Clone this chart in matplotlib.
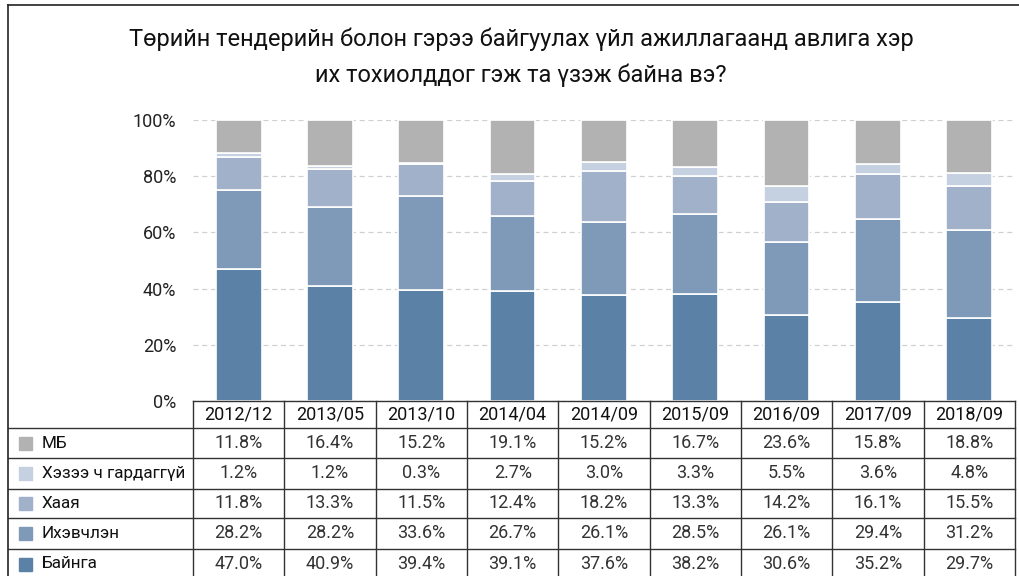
import matplotlib
matplotlib.use("Agg")
import matplotlib.pyplot as plt
from matplotlib import font_manager
import numpy as np

names = {f.name for f in font_manager.fontManager.ttflist}
FONT = 'Liberation Sans Narrow' if 'Liberation Sans Narrow' in names else 'Roboto'
plt.rcParams['font.family'] = [FONT, 'DejaVu Sans']

categories = ["2012/12", "2013/05", "2013/10", "2014/04", "2014/09",
              "2015/09", "2016/09", "2017/09", "2018/09"]
# bottom to top
series_names = ["Байнга", "Ихэвчлэн", "Хаая", "Хэзээ ч гардаггүй", "МБ"]
bainga   = [47.0, 40.9, 39.4, 39.1, 37.6, 38.2, 30.6, 35.2, 29.7]
ihevchlen = [28.2, 28.2, 33.6, 26.7, 26.1, 28.5, 26.1, 29.4, 31.2]
haaya    = [11.8, 13.3, 11.5, 12.4, 18.2, 13.3, 14.2, 16.1, 15.5]
hezee    = [1.2, 1.2, 0.3, 2.7, 3.0, 3.3, 5.5, 3.6, 4.8]
mb       = [11.8, 16.4, 15.2, 19.1, 15.2, 16.7, 23.6, 15.8, 18.8]
yticks = [0, 20, 40, 60, 80, 100]
title = "Төрийн тендерийн болон гэрээ байгуулах үйл ажиллагаанд авлига хэр\nих тохиолддог гэж та үзэж байна вэ?"

colors = ["#5b82a6", "#7f9ab8", "#a1b1c9", "#c5d0e0", "#b2b2b2"]
series = [bainga, ihevchlen, haaya, hezee, mb]

W, H = 1020, 576
fig = plt.figure(figsize=(W/100, H/100), dpi=100)

def fx(px): return px / W
def fy(py): return 1 - py / H

# axes area
left_px, right_px = 193, 1015
top_px, bot_px = 120, 401
ax = fig.add_axes([fx(left_px), fy(bot_px), fx(right_px) - fx(left_px), fy(top_px) - fy(bot_px)])
x = np.arange(len(categories))
bottom = np.zeros(len(categories))
for vals, c, n in zip(series, colors, series_names):
    ax.bar(x, vals, 0.5, bottom=bottom, color=c, edgecolor='white', linewidth=1.2, label=n, zorder=3)
    bottom += np.array(vals)
ax.set_xlim(-0.5, len(categories) - 0.5)
ax.set_ylim(0, 100)
ax.set_yticks(yticks)
ax.set_yticklabels([f"{t}%" for t in yticks], fontsize=13, color='#222222')
ax.yaxis.grid(True, linestyle=(0, (4, 3)), color='#d0d0d0', linewidth=0.9, zorder=0)
ax.set_xticks([])
ax.tick_params(axis='y', length=0, pad=12)
for s in ax.spines.values():
    s.set_visible(False)

# title
fig.text(fx(521), fy(57), title, ha='center', va='center', fontsize=17,
         linespacing=1.7, color='#111111')

# outer frame (top and left)
fig.add_artist(plt.Line2D([fx(8), 1], [fy(5), fy(5)], color='#222222', lw=1.2))
fig.add_artist(plt.Line2D([fx(8), fx(8)], [fy(5), 0], color='#222222', lw=1.2))

# data table
row_edges = [401, 428, 458, 489, 518, 549, 580]
ncol = len(categories)
col_w = (right_px - left_px) / ncol
col_edges = [left_px + i * col_w for i in range(ncol + 1)]
lc = '#333333'
lw = 1.0
fig.add_artist(plt.Line2D([fx(left_px), fx(right_px)], [fy(row_edges[0])] * 2, color=lc, lw=lw))
for ry in row_edges[1:]:
    fig.add_artist(plt.Line2D([fx(8), fx(right_px)], [fy(ry)] * 2, color=lc, lw=lw))
for cx in col_edges:
    fig.add_artist(plt.Line2D([fx(cx)] * 2, [fy(row_edges[0]), 0], color=lc, lw=lw))
for i, cat in enumerate(categories):
    cx = (col_edges[i] + col_edges[i + 1]) / 2
    fig.text(fx(cx), fy((row_edges[0] + row_edges[1]) / 2), cat, ha='center', va='center',
             fontsize=13, color='#111111')

table_rows = list(zip(series_names, series, colors))[::-1]
for r, (n, vals, c) in enumerate(table_rows):
    yc = (row_edges[r + 1] + row_edges[r + 2]) / 2
    if r == len(table_rows) - 1:
        yc = row_edges[r + 1] + 15
    fig.add_artist(plt.Rectangle((fx(19), fy(yc + 6.5)), fx(13), fy(yc - 6.5) - fy(yc + 6.5),
                                 color=c, transform=fig.transFigure))
    fig.text(fx(42), fy(yc), n, ha='left', va='center', fontsize=12.3, color='#111111')
    for i, v in enumerate(vals):
        cx = (col_edges[i] + col_edges[i + 1]) / 2
        fig.text(fx(cx), fy(yc), f"{v:.1f}%", ha='center', va='center', fontsize=13,
                 color='#333333')

fig.savefig("out.png", dpi=100)
